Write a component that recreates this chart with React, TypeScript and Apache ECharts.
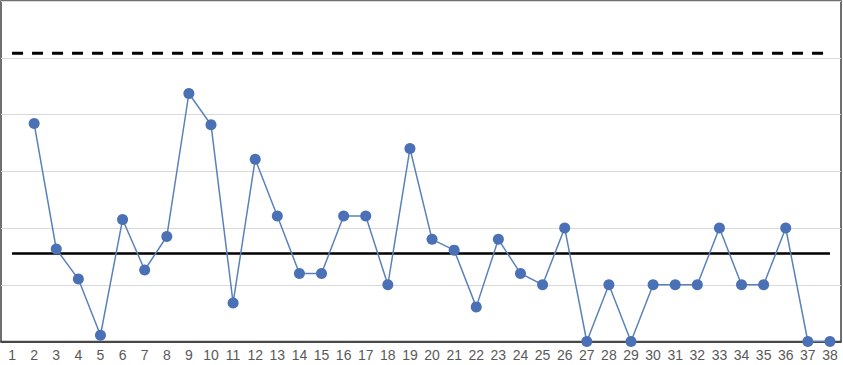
import React, { useEffect, useRef } from "react";
import * as echarts from "echarts";

const categories: string[] = Array.from({ length: 38 }, (_, i) => String(i + 1));
const values: (number | null)[] = [
  null, 3.84, 1.63, 1.1, 0.11, 2.15, 1.26, 1.85, 4.37, 3.82,
  0.68, 3.21, 2.21, 1.2, 1.2, 2.21, 2.21, 1.0, 3.4, 1.8,
  1.61, 0.61, 1.8, 1.2, 1.0, 2.0, 0, 1, 0, 1,
  1, 1, 2, 1, 1, 2, 0, 0,
];
const meanValue = 1.55;
const upperLimit = 5.08;
const yTicks = [0, 1, 2, 3, 4, 5, 6];

export default function App() {
  const ref = useRef<HTMLDivElement>(null);
  useEffect(() => {
    if (!ref.current) return;
    const chart = echarts.init(ref.current, null, { renderer: "svg" });
    chart.setOption({
      animation: false,
      backgroundColor: "#ffffff",
      grid: {
        left: 1,
        right: 2,
        top: 1,
        bottom: 23.5,
        show: true,
        borderColor: "#404040",
        borderWidth: 1.5,
      },
      xAxis: {
        type: "category",
        data: categories,
        boundaryGap: true,
        axisLine: { show: true, lineStyle: { color: "#1a1a1a", width: 1.5 } },
        axisTick: { show: false },
        axisLabel: {
          color: "#595959",
          fontSize: 14,
          fontFamily: "Liberation Sans, Arial, sans-serif",
          margin: 6,
          interval: 0,
        },
      },
      yAxis: {
        type: "value",
        min: yTicks[0],
        max: yTicks[yTicks.length - 1],
        interval: 1,
        axisLine: { show: false },
        axisTick: { show: false },
        axisLabel: { show: false },
        splitLine: { show: true, lineStyle: { color: "#d9d9d9", width: 1 } },
      },
      series: [
        {
          type: "line",
          data: categories.map(() => upperLimit),
          symbol: "none",
          lineStyle: { color: "#000000", width: 3, type: [11, 9] },
          silent: true,
          z: 2,
        },
        {
          type: "line",
          data: categories.map(() => meanValue),
          symbol: "none",
          lineStyle: { color: "#000000", width: 2.5 },
          silent: true,
          z: 2,
        },
        {
          type: "line",
          data: values,
          connectNulls: false,
          symbol: "circle",
          symbolSize: 11,
          itemStyle: { color: "#4a70b5" },
          lineStyle: { color: "#5a82ba", width: 1.5 },
          z: 3,
        },
      ],
    });
    return () => chart.dispose();
  }, []);
  return (
    <div
      ref={ref}
      style={{ position: "fixed", left: 0, top: 0, width: 843, height: 365 }}
    />
  );
}
